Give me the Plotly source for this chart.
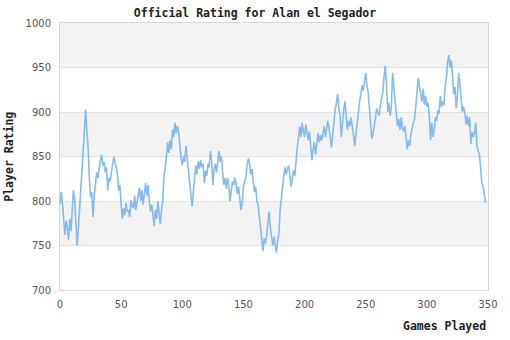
import plotly.graph_objects as go

games = list(range(0, 349))
ratings = [
    796, 810, 798, 784, 762, 778, 770, 756, 780, 766,
    792, 812, 802, 782, 750, 768, 792, 815, 840, 858,
    880, 903, 878, 860, 826, 804, 810, 782, 806, 820,
    832, 826, 838, 846, 852, 840, 844, 832, 838, 812,
    826, 822, 832, 842, 850, 844, 836, 830, 812, 818,
    796, 780, 792, 784, 798, 788, 790, 782, 801, 794,
    792, 806, 790, 798, 808, 815, 800, 812, 796, 808,
    820, 806, 818, 800, 788, 796, 784, 772, 790, 780,
    800, 786, 774, 790, 800, 828, 836, 850, 866, 854,
    868, 858, 880, 872, 888, 876, 884, 878, 860, 848,
    840, 850, 844, 862, 848, 836, 818, 808, 794, 810,
    826, 840, 830, 845, 836, 846, 838, 842, 820, 834,
    828, 842, 838, 856, 846, 818, 836, 842, 832, 848,
    856, 844, 850, 832, 818, 826, 814, 826, 818, 800,
    812, 822, 818, 826, 820, 808, 816, 800, 790, 798,
    816, 822, 826, 840, 848, 842, 830, 836, 820, 810,
    816, 800, 796, 782, 770, 756, 744, 758, 752, 762,
    774, 788, 770, 762, 750, 760, 748, 742, 756, 764,
    790, 806, 820, 828, 838, 830, 836, 840, 828, 816,
    826, 834, 828, 848, 860, 870, 884, 872, 888, 878,
    872, 886, 876, 868, 878, 860, 846, 858, 866, 852,
    868, 876, 866, 874, 868, 876, 884, 872, 880, 890,
    882, 870, 860, 874, 892, 902, 910, 920, 906, 896,
    872, 890, 902, 912, 896, 880, 890, 884, 894, 886,
    874, 862, 876, 890, 902, 912, 920, 930, 924, 936,
    944, 930, 922, 904, 884, 870, 876, 888, 894, 904,
    900, 896, 908, 916, 922, 940, 952, 930, 900, 910,
    896, 906, 944, 928, 910, 898, 884, 892, 880, 894,
    882, 878, 884, 872, 858, 868, 862, 876, 884, 888,
    892, 908, 920, 938, 928, 920, 912, 926, 908, 918,
    906, 910, 896, 868, 888, 872, 880, 894, 890, 902,
    898, 918, 906, 912, 908, 930, 938, 956, 964, 950,
    958, 940, 920, 928, 904, 918, 944, 932, 916, 900,
    906, 900, 886, 896, 884, 894, 864, 878, 872, 876,
    888, 862, 856, 852, 836, 820, 816, 808, 798,
]

x_ticks = [0, 50, 100, 150, 200, 250, 300, 350]
y_ticks = [700, 750, 800, 850, 900, 950, 1000]
band_edges = [(950, 1000), (850, 900), (750, 800)]

fig = go.Figure()
fig.add_trace(go.Scatter(
    x=games, y=ratings, mode="lines",
    line=dict(color="rgba(120,180,240,0.9)", width=1.6),
    hoverinfo="skip",
))

for lo, hi in band_edges:
    fig.add_shape(type="rect", xref="paper", yref="y", x0=0, x1=1, y0=lo, y1=hi,
                  fillcolor="#f3f3f3", line=dict(width=0), layer="below")

fig.update_layout(
    width=510, height=340,
    margin=dict(l=60, r=20, t=23, b=50),
    paper_bgcolor="white", plot_bgcolor="white",
    showlegend=False,
    title=dict(text="<b>Official Rating for Alan el Segador</b>", x=0.5, xanchor="center",
               y=1 - 13 / 340, yanchor="middle",
               font=dict(family="DejaVu Sans Mono", size=11.5, color="#222")),
    xaxis=dict(range=[0, 350], tickvals=x_ticks, showgrid=False, zeroline=False,
               showline=True, linecolor="#d6d6d6", linewidth=1, mirror=True,
               ticks="", ticklabelstandoff=5,
               tickfont=dict(family="DejaVu Sans", size=10, color="#555")),
    yaxis=dict(range=[700, 1000], tickvals=y_ticks, showgrid=True, gridcolor="#e2e2e2",
               gridwidth=1, zeroline=False, showline=True, linecolor="#d6d6d6",
               linewidth=1, mirror=True, ticks="", ticklabelstandoff=6,
               tickfont=dict(family="DejaVu Sans", size=10, color="#555")),
    annotations=[
        dict(text="<b>Games Played</b>", xref="paper", yref="paper", x=1, y=-36 / 267,
             xanchor="right", yanchor="middle", showarrow=False,
             font=dict(family="DejaVu Sans Mono", size=11.5, color="#222")),
        dict(text="<b>Player Rating</b>", xref="paper", yref="paper", x=-52 / 430, y=0.5,
             xanchor="center", yanchor="middle", textangle=-90, showarrow=False,
             font=dict(family="DejaVu Sans Mono", size=11.5, color="#222")),
    ],
)

fig.write_html("out.html")
